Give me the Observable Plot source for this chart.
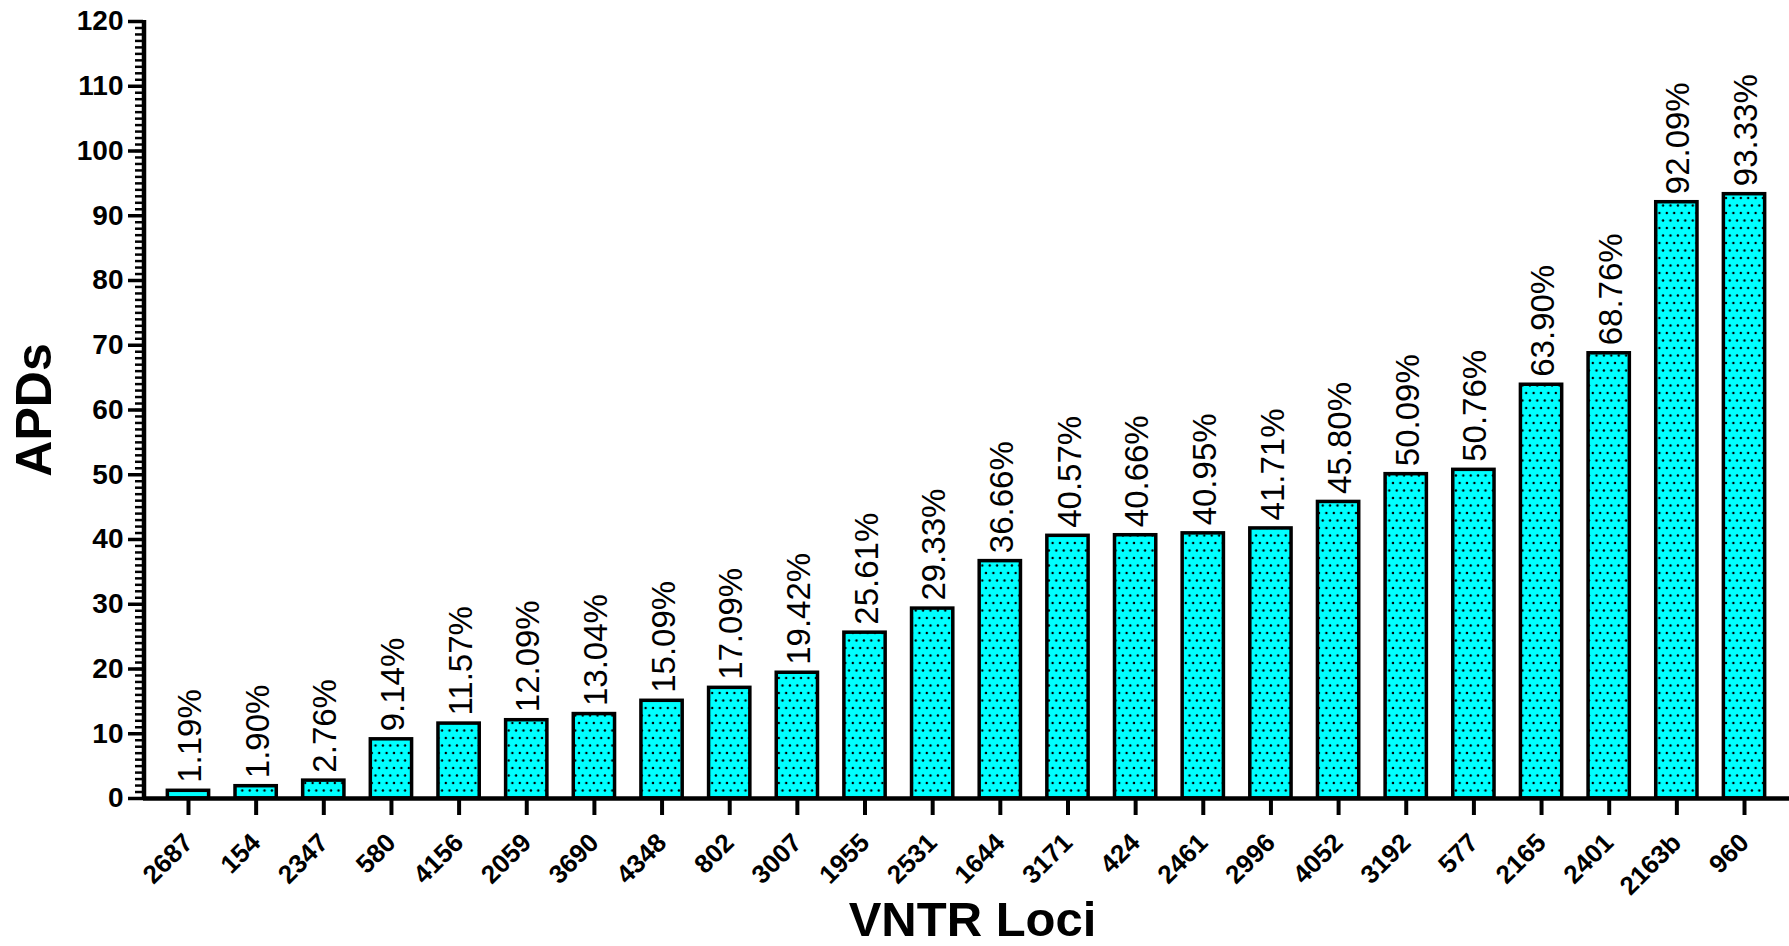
<!DOCTYPE html>
<html>
<head>
<meta charset="utf-8">
<script src="https://cdn.jsdelivr.net/npm/d3@7"></script>
<script src="https://cdn.jsdelivr.net/npm/@observablehq/plot@0.6"></script>
<style>
  html, body { margin: 0; padding: 0; background: #fff; }
  svg { display: block; }
</style>
</head>
<body>
<div id="chart"></div>
<script>
const loci = ["2687","154","2347","580","4156","2059","3690","4348","802","3007","1955","2531","1644","3171","424","2461","2996","4052","3192","577","2165","2401","2163b","960"];
const apds = [1.19,1.90,2.76,9.14,11.57,12.09,13.04,15.09,17.09,19.42,25.61,29.33,36.66,40.57,40.66,40.95,41.71,45.80,50.09,50.76,63.90,68.76,92.09,93.33];
const yMajorTicks = [0,10,20,30,40,50,60,70,80,90,100,110,120];
const yMinorTicks = d3.range(0, 121, 1);

const data = loci.map((l, i) => ({locus: l, value: apds[i], label: apds[i].toFixed(2) + "%"}));

const yAxisLine = (index, scales, values, dimensions) => {
  const x = dimensions.marginLeft + 1;
  return d3.create("svg:line")
    .attr("x1", x).attr("x2", x)
    .attr("y1", scales.y(0) + 2).attr("y2", scales.y(120) - 1)
    .attr("stroke", "black").attr("stroke-width", 4.5)
    .node();
};

const chart = Plot.plot({
  width: 1789,
  height: 946,
  marginLeft: 143,
  marginRight: 0,
  marginTop: 21,
  marginBottom: 148,
  style: {fontFamily: "'Liberation Sans', Arial, sans-serif", background: "white", color: "black"},
  x: {domain: loci, paddingInner: 0.39, paddingOuter: 0.36, round: false, label: null},
  y: {domain: [0, 120], label: null},
  marks: [
    Plot.barY(data, {x: "locus", y: "value", fill: "url(#dots)", stroke: "black", strokeWidth: 3.5}),
    Plot.axisY({ticks: yMinorTicks, tickSize: 8, text: null, strokeWidth: 2.5, label: null}),
    Plot.axisY({ticks: yMajorTicks, tickSize: 15, tickPadding: 5, strokeWidth: 3.5, fontSize: 28, fontWeight: "bold", label: null}),
    Plot.axisX({tickSize: 17, strokeWidth: 4, text: null, label: null}),
    Plot.axisX({tickSize: 0, tickRotate: -45, tickPadding: 40, dx: 0, fontSize: 26, fontWeight: "bold", label: null}),
    Plot.ruleY([0], {strokeWidth: 4.5}),
    yAxisLine,
    Plot.text(data, {x: "locus", y: "value", text: "label", rotate: -90, textAnchor: "start", dx: 2, dy: -8, fontSize: 33}),
    Plot.text(["APDs"], {frameAnchor: "left", textAnchor: "middle", lineAnchor: "middle", rotate: -90, dx: -109, fontSize: 50, fontWeight: "bold"}),
    Plot.text(["VNTR Loci"], {frameAnchor: "bottom", textAnchor: "middle", lineAnchor: "middle", dx: 6, dy: 122, fontSize: 49, fontWeight: "bold"})
  ]
});

const svg = d3.select(chart);
const defs = svg.insert("defs", ":first-child");
const pat = defs.append("pattern")
  .attr("id", "dots")
  .attr("patternUnits", "userSpaceOnUse")
  .attr("width", 7.4).attr("height", 15);
pat.append("rect").attr("width", 7.4).attr("height", 15).attr("fill", "#00FFFF");
pat.append("circle").attr("cx", 1.8).attr("cy", 3).attr("r", 1.2).attr("fill", "black");
pat.append("circle").attr("cx", 5.5).attr("cy", 10.5).attr("r", 1.2).attr("fill", "black");

document.getElementById("chart").appendChild(chart);
</script>
</body>
</html>
